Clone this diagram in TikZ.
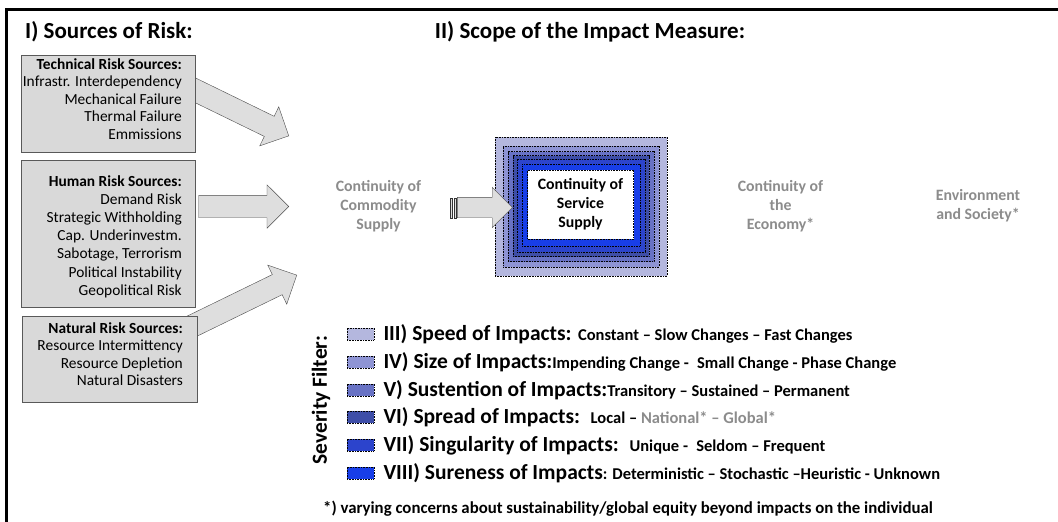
\documentclass[tikz,border=0pt]{standalone}
\usepackage{fontspec}
\setmainfont{Carlito}
\usepackage{xcolor}
\usetikzlibrary{arrows.meta}
\usetikzlibrary{positioning, shapes.arrows, backgrounds}
\definecolor{sourcegray}{RGB}{217,217,217}
\definecolor{arrowgray}{RGB}{222,222,222}
\definecolor{scopegray}{RGB}{140,140,140}
\definecolor{impactIII}{RGB}{180,183,222}
\definecolor{impactIV}{RGB}{142,148,212}
\definecolor{impactV}{RGB}{104,114,196}
\definecolor{impactVI}{RGB}{62,78,168}
\definecolor{impactVII}{RGB}{44,68,204}
\definecolor{impactVIII}{RGB}{24,62,232}
\tikzset{
source box/.style = { rectangle, draw = black!65, fill = sourcegray, inner sep = 0pt, anchor = north west },
source text/.style = { align = right, inner sep = 0pt, anchor = north east, font = \fontsize{15.4}{17.5}\selectfont },
risk arrow/.style = { single arrow, draw = black!70, fill = arrowgray, inner xsep = 0pt, inner ysep = 11pt, single arrow head extend = 10.5pt, single arrow tip angle = 90, anchor = tip },
layer/.style = { rectangle, draw = black, dash pattern = on 0.8pt off 0.8pt, line width = 0.6pt, inner sep = 0pt },
scope text/.style = { align = center, inner sep = 0pt, font = \bfseries\fontsize{15.8}{19}\selectfont, text = scopegray },
heading/.style = { inner sep = 0pt, font = \bfseries\fontsize{23}{27}\selectfont },
swatch/.style = { layer, minimum width = 27pt, minimum height = 12pt },
filter text/.style = { inner sep = 0pt, anchor = west, font = \bfseries\fontsize{21.5}{25}\selectfont },
}
\newcommand{\filtersmall}{\fontsize{16.5}{19}\selectfont}

\begin{document}
\begin{tikzpicture}[x = 1pt, y = -1pt]
    \useasboundingbox (0, 0) rectangle (1058, 522);
    \fill[white] (0, 0) rectangle (1058, 522);
    \draw[line width = 2.5pt] (6.5, 522) -- (6.5, 9.5) -- (1058, 9.5);
    % sources of risk
    \node[heading, anchor = west] (sources title) at (25, 32) {I) Sources of Risk:};
    \node[risk arrow, minimum height = 115pt, rotate = -26] (tech arrow) at (289, 136) {};
    \node[risk arrow, minimum height = 90pt] (human arrow) at (289, 206.5) {};
    \node[risk arrow, minimum height = 125pt, rotate = 26] (nature arrow) at (297, 275) {};
    \node[source box, minimum width = 174pt, minimum height = 97pt] (tech box) at (21, 55) {};
    \node[source text] (tech text) at (182, 58) {\textbf{Technical Risk Sources:}\\Infrastr. Interdependency\\Mechanical Failure\\Thermal Failure\\Emmissions};
    \node[source box, minimum width = 174pt, minimum height = 147pt] (human box) at (21, 160) {};
    \node[source text, font = \fontsize{15.4}{18.2}\selectfont] (human text) at (182, 175) {\textbf{Human Risk Sources:}\\Demand Risk\\Strategic Withholding\\Cap. Underinvestm.\\Sabotage, Terrorism\\Political Instability\\Geopolitical Risk};
    \node[source box, minimum width = 175pt, minimum height = 86pt] (nature box) at (22, 316) {};
    \node[source text] (nature text) at (183, 322) {\textbf{Natural Risk Sources:}\\Resource Intermittency\\Resource Depletion\\Natural Disasters};
    % scope of the impact measure
    \node[heading] (scope title) at (590, 32) {II) Scope of the Impact Measure:};
    \node[scope text] (commodity) at (378.5, 206) {Continuity of\\Commodity\\Supply};
    \node[layer, fill = impactIII, minimum width = 172pt, minimum height = 139pt] (layer III) at (581, 206.5) {};
    \node[layer, fill = impactIV, minimum width = 156pt, minimum height = 121pt] (layer IV) at (581, 206.5) {};
    \node[layer, fill = impactV, minimum width = 146pt, minimum height = 110pt] (layer V) at (581, 206.5) {};
    \node[layer, fill = impactVI, minimum width = 136pt, minimum height = 101pt] (layer VI) at (581, 206) {};
    \node[layer, fill = impactVII, minimum width = 128pt, minimum height = 93pt] (layer VII) at (581, 205.5) {};
    \node[layer, fill = impactVIII, minimum width = 118pt, minimum height = 82pt] (layer VIII) at (581, 205) {};
    \node[layer, fill = white, minimum width = 106pt, minimum height = 69pt, align = center, font = \bfseries\fontsize{15.8}{19}\selectfont] (service) at (580.5, 204.5) {Continuity of\\Service\\Supply};
    \node[risk arrow, inner ysep = 10pt, single arrow head extend = 10pt, minimum height = 55pt] (supply arrow) at ([yshift = -1.5pt] layer VI.west) {};
    \draw[black!80, fill = arrowgray] (450, 198) rectangle (452.5, 218);
    \draw[black!80, fill = arrowgray] (453.8, 198) rectangle (456.3, 218);
    \node[scope text] (economy) at (780.5, 206) {Continuity of\\the\\Economy*};
    \node[scope text] (society) at (978, 206) {Environment\\and Society*};
    % severity filter
    \node[filter text, anchor = center, rotate = 90] (filter) at (321, 400) {Severity Filter:};
    \node[swatch, fill = impactIII] (sw III) at (360.5, 334) {};
    \node[swatch, fill = impactIV] (sw IV) at (360.5, 362) {};
    \node[swatch, fill = impactV] (sw V) at (360.5, 390) {};
    \node[swatch, fill = impactVI] (sw VI) at (360.5, 417) {};
    \node[swatch, fill = impactVII] (sw VII) at (360.5, 445) {};
    \node[swatch, fill = impactVIII] (sw VIII) at (360.5, 473) {};
    \node[filter text, right = 9pt of sw III] (speed) {III) Speed of Impacts: {\filtersmall Constant -- Slow Changes -- Fast Changes}};
    \node[filter text, right = 9pt of sw IV] (size) {IV) Size of Impacts:{\filtersmall Impending Change -\enspace Small Change - Phase Change}};
    \node[filter text, right = 9pt of sw V] (sustention) {V) Sustention of Impacts:{\filtersmall Transitory -- Sustained -- Permanent}};
    \node[filter text, right = 9pt of sw VI] (spread) {VI) Spread of Impacts:\enspace{\filtersmall Local -- \textcolor{scopegray}{National* -- Global*}}};
    \node[filter text, right = 9pt of sw VII] (singularity) {VII) Singularity of Impacts:\enspace{\filtersmall Unique -\enspace Seldom -- Frequent}};
    \node[filter text, right = 9pt of sw VIII] (sureness) {VIII) Sureness of Impacts{\filtersmall : Deterministic -- Stochastic --Heuristic - Unknown}};
    \node[inner sep = 0pt, font = \bfseries\fontsize{16.8}{19}\selectfont] (footnote) at (628, 509) {*) varying concerns about sustainability/global equity beyond impacts on the individual};
\end{tikzpicture}
\end{document}
